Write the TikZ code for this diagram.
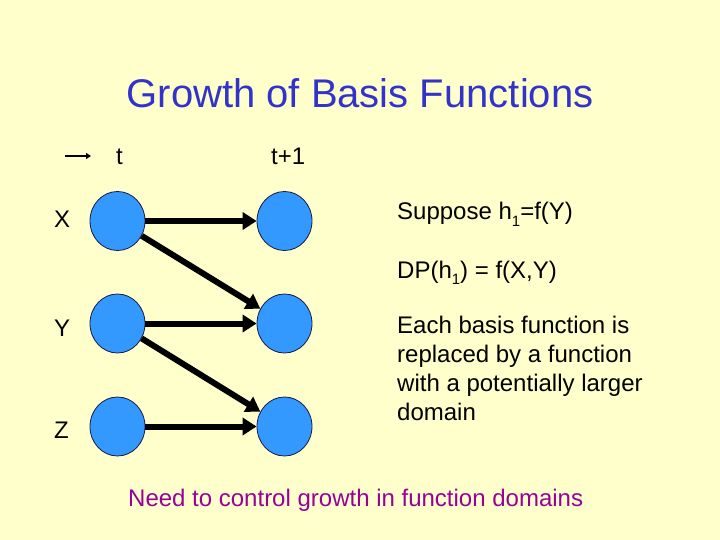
\documentclass[tikz,border=0pt]{standalone}
\usepackage{fontspec}
\setmainfont{Liberation Sans}
\usetikzlibrary{shapes.geometric,arrows.meta}
\definecolor{bgyellow}{HTML}{FFFFCC}
\definecolor{nodeblue}{HTML}{3399FF}
\definecolor{titleblue}{HTML}{3333CC}
\definecolor{notepurple}{HTML}{990099}
\definecolor{rimnavy}{HTML}{1A1A4D}
\newcommand{\subone}{\raisebox{-0.25em}{\fontsize{15}{15}\selectfont 1}}
\tikzset{
  var/.style={ellipse, draw=rimnavy, line width=0.8pt, fill=nodeblue,
    minimum width=55pt, minimum height=59pt, inner sep=0pt},
  body/.style={anchor=base west, inner sep=0pt, font=\fontsize{24}{29}\selectfont},
  titletext/.style={anchor=base, inner sep=0pt, text=titleblue, font=\fontsize{40}{48}\selectfont},
  link/.style={line width=6pt, -{Triangle[length=14pt,width=17pt]}},
  smallarrow/.style={line width=1.6pt, -{Triangle[length=5pt,width=6pt]}}
}
\begin{document}
\begin{tikzpicture}[x=1pt,y=-1pt]
  \fill[bgyellow] (0,0) rectangle (720,540);
  \useasboundingbox (0,0) rectangle (720,540);

  \node[titletext] (title) at (360,108) {Growth of Basis Functions};

  \coordinate (arrS) at (65,156);
  \coordinate (arrE) at (91,156);
  \draw[smallarrow] (arrS) -- (arrE);

  \node[body] (tlab) at (116,165) {t};
  \node[body] (t1lab) at (271,165) {t+1};

  \node[body] (xlab) at (54,228) {X};
  \node[body] (ylab) at (54,336) {Y};
  \node[body] (zlab) at (54,438) {Z};

  \node[var] (x0) at (117.5,221) {};
  \node[var] (y0) at (117.5,323.5) {};
  \node[var] (z0) at (117.5,426.5) {};
  \node[var] (x1) at (284.5,221) {};
  \node[var] (y1) at (284.5,323.5) {};
  \node[var] (z1) at (284.5,426.5) {};

  \draw[link] (x0) -- (x1);
  \draw[link] (y0) -- (y1);
  \draw[link] (z0) -- (z1);
  \draw[link] (x0) -- (y1);
  \draw[link] (y0) -- (z1);

  \node[body] (sup) at (397,220) {Suppose h\subone=f(Y)};
  \node[body] (dp) at (397,278) {DP(h\subone) = f(X,Y)};

  \node[body] (l1) at (397,333.5) {Each basis function is};
  \node[body] (l2) at (397,362.5) {replaced by a function};
  \node[body] (l3) at (397,391.5) {with a potentially larger};
  \node[body] (l4) at (397,420.5) {domain};

  \node[body, text=notepurple] (need) at (128,506) {Need to control growth in function domains};
\end{tikzpicture}
\end{document}
